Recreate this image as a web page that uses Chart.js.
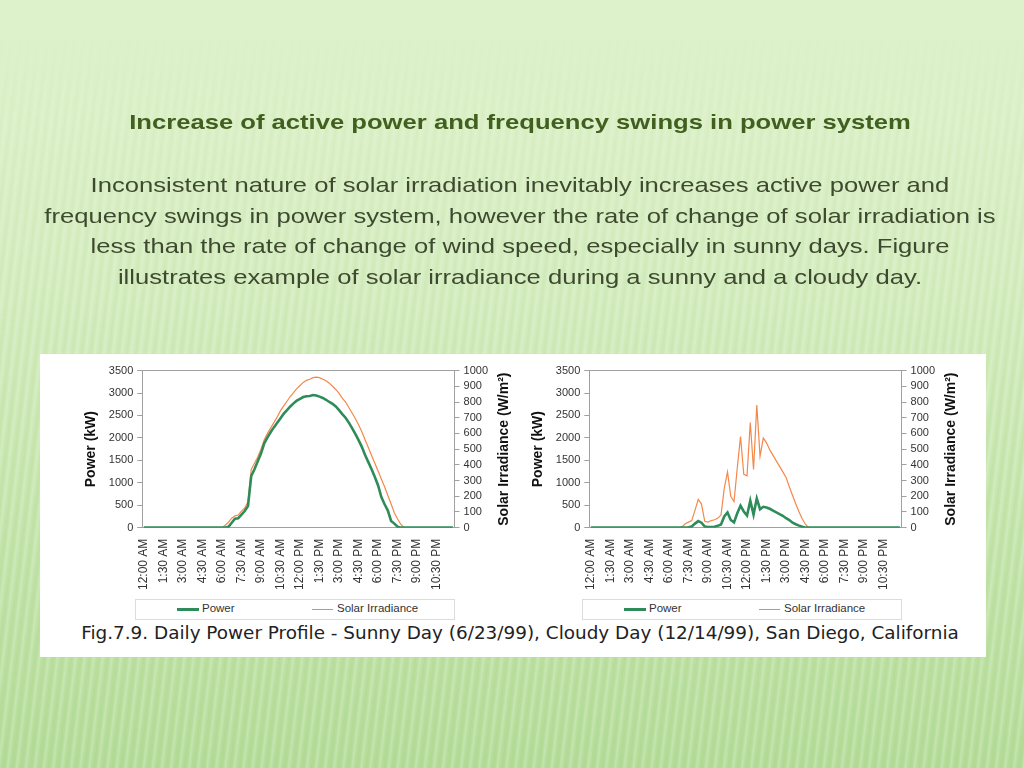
<!DOCTYPE html>
<html>
<head>
<meta charset="utf-8">
<script src="https://cdn.jsdelivr.net/npm/chart.js@4.4.1/dist/chart.umd.min.js"></script>
<style>
  html, body { margin: 0; padding: 0; }
  body {
    width: 1024px; height: 768px; overflow: hidden; position: relative;
    background: linear-gradient(to bottom, #ddf1cb 0px, #dbf0c7 120px, #d3ecbd 300px, #c4e5ab 520px, #b4dc98 768px);
    font-family: "Liberation Sans", Arial, sans-serif;
  }
  .stripes {
    position: absolute; left: 0; top: 0; width: 1024px; height: 768px;
    background: repeating-linear-gradient(97deg, rgba(255,255,255,0) 0px, rgba(255,255,255,0.22) 2px, rgba(255,255,255,0) 5px, rgba(120,170,90,0.06) 7px, rgba(255,255,255,0) 9px);
    -webkit-mask-image: linear-gradient(to bottom, transparent 30px, rgba(0,0,0,0.6) 120px, #000 400px);
  }
  .title, .para {
    position: absolute; left: 20px; width: 1000px; text-align: center;
    transform: scaleX(1.22); transform-origin: 500px 0;
  }
  .title { top: 110px; font-weight: bold; font-size: 21px; color: #41601f; }
  .para { top: 170px; font-size: 21px; line-height: 30.5px; color: #3d4a2f; }
  .panel {
    position: absolute; left: 40px; top: 354px; width: 946px; height: 303px; background: #fff;
  }
  .chartbox { position: absolute; top: 360px; width: 442px; height: 235px; }
  .legend {
    position: absolute; top: 599px; width: 318px; height: 19px;
    border: 1px solid #dcdcdc; font-size: 11.5px; color: #333;
  }
  .legend .sw { position: absolute; top: 9px; }
  .legend .tx { position: absolute; top: 2px; }
  .caption {
    position: absolute; left: 47px; width: 946px; top: 622px; text-align: center;
    font-family: "DejaVu Sans", Verdana, sans-serif; font-size: 18.4px; color: #222;
  }
</style>
</head>
<body>
<div class="stripes"></div>
<div class="title">Increase of active power and frequency swings in power system</div>
<div class="para">Inconsistent nature of solar irradiation inevitably increases active power and<br>frequency swings in power system, however the rate of change of solar irradiation is<br>less than the rate of change of wind speed, especially in sunny days. Figure<br>illustrates example of solar irradiance during a sunny and a cloudy day.</div>
<div class="panel"></div>
<div class="chartbox" style="left:76px"><canvas id="sunny"></canvas></div>
<div class="chartbox" style="left:523px"><canvas id="cloudy"></canvas></div>
<div class="legend" id="legSunny" style="left:135px"></div>
<div class="legend" id="legCloudy" style="left:582px"></div>
<div class="caption">Fig.7.9. Daily Power Profile - Sunny Day (6/23/99), Cloudy Day (12/14/99), San Diego, California</div>
<script>
// x tick labels shown every 1.5 h (data every 15 min)
const tickLabels = ['12:00 AM', '1:30 AM', '3:00 AM', '4:30 AM', '6:00 AM', '7:30 AM', '9:00 AM', '10:30 AM',
  '12:00 PM', '1:30 PM', '3:00 PM', '4:30 PM', '6:00 PM', '7:30 PM', '9:00 PM', '10:30 PM'];

// 15 minute categories over the day
const times = [];
for (let m = 0; m < 24 * 60; m += 15) {
  const h = Math.floor(m / 60), mm = m % 60;
  const h12 = h % 12 === 0 ? 12 : h % 12;
  times.push(h12 + ':' + String(mm).padStart(2, '0') + (h < 12 ? ' AM' : ' PM'));
}

// sunny day 6/23/99
const sunnyPower = [
  0, 0, 0, 0, 0, 0, 0, 0, 0, 0, 0, 0, 0, 0, 0, 0, 0, 0, 0, 0, 0, 0, 0, 0, 0, 0,
  20, 110, 200, 210, 290, 370, 480, 1150, 1300, 1480, 1650, 1880, 2010, 2130, 2240, 2340,
  2440, 2540, 2620, 2700, 2770, 2830, 2870, 2910, 2930, 2935, 2955, 2945, 2920, 2890,
  2850, 2800, 2760, 2700, 2620, 2530, 2450, 2340, 2220, 2090, 1950, 1800, 1620, 1460,
  1300, 1130, 940, 680, 520, 380, 150, 90, 20,
  0, 0, 0, 0, 0, 0, 0, 0, 0, 0, 0, 0, 0, 0, 0, 0, 0
];
const sunnyIrradiance = [
  0, 0, 0, 0, 0, 0, 0, 0, 0, 0, 0, 0, 0, 0, 0, 0, 0, 0, 0, 0, 0, 0, 0, 0, 0,
  15, 35, 60, 75, 80, 105, 125, 165, 370, 410, 450, 500, 560, 600, 635, 670, 705,
  745, 775, 805, 835, 860, 885, 905, 925, 938, 945, 955, 958, 955, 945, 935, 920,
  900, 880, 855, 825, 800, 765, 730, 695, 655, 610, 560, 510, 460, 410, 360, 310,
  260, 205, 150, 95, 55, 20,
  0, 0, 0, 0, 0, 0, 0, 0, 0, 0, 0, 0, 0, 0, 0, 0
];

// cloudy day 12/14/99
const cloudyPower = [
  0, 0, 0, 0, 0, 0, 0, 0, 0, 0, 0, 0, 0, 0, 0, 0, 0, 0, 0, 0, 0, 0, 0, 0, 0, 0, 0, 0, 0, 0,
  10, 25, 90, 145, 110, 25, 15, 15, 20, 40, 70, 250, 340, 170, 115, 320, 490, 360,
  270, 600, 290, 650, 410, 465, 450, 420, 380, 340, 300, 265, 210, 170, 110, 75, 45, 20,
  0, 0, 0, 0, 0, 0, 0, 0, 0, 0, 0, 0, 0, 0, 0, 0, 0, 0, 0, 0, 0, 0, 0, 0, 0, 0, 0, 0, 0, 0
];
const cloudyIrradiance = [
  0, 0, 0, 0, 0, 0, 0, 0, 0, 0, 0, 0, 0, 0, 0, 0, 0, 0, 0, 0, 0, 0, 0, 0, 0, 0, 0, 0,
  5, 25, 35, 45, 110, 180, 150, 40, 35, 45, 50, 60, 80, 250, 355, 200, 165, 380, 580,
  340, 330, 670, 370, 780, 455, 570, 540, 495, 460, 425, 390, 355, 320, 260, 205, 150,
  100, 55, 20,
  0, 0, 0, 0, 0, 0, 0, 0, 0, 0, 0, 0, 0, 0, 0, 0, 0, 0, 0, 0, 0, 0, 0, 0, 0, 0, 0, 0, 0
];

const GREEN = '#2f8c5a';
const ORANGE = '#f5874a';
const AXIS = '#a0a0a0';

// right axis title reads bottom-to-top like the left one
const rightTitle = {
  id: 'rightTitle',
  afterDraw(chart) {
    const area = chart.chartArea;
    const ctx = chart.ctx;
    ctx.save();
    ctx.translate(area.right + 50, (area.top + area.bottom) / 2);
    ctx.rotate(-Math.PI / 2);
    ctx.font = 'bold 14px "Liberation Sans", Arial';
    ctx.fillStyle = '#111';
    ctx.textAlign = 'center';
    ctx.textBaseline = 'middle';
    ctx.fillText('Solar Irradiance (W/m\u00b2)', 0, 0);
    ctx.restore();
  }
};

function makeChart(id, legendId, power, irradiance) {
  const tickFont = { family: '"Liberation Sans", Arial', size: 11 };
  const chart = new Chart(document.getElementById(id), {
    type: 'line',
    data: {
      labels: times,
      datasets: [{
        label: 'Power',
        data: power,
        borderColor: GREEN,
        backgroundColor: GREEN,
        borderWidth: 2.6,
        pointRadius: 0,
        yAxisID: 'y'
      }, {
        label: 'Solar Irradiance',
        data: irradiance,
        borderColor: ORANGE,
        backgroundColor: ORANGE,
        borderWidth: 1.2,
        pointRadius: 0,
        yAxisID: 'y1'
      }]
    },
    options: {
      responsive: true,
      maintainAspectRatio: false,
      animation: false,
      layout: { padding: { left: 5, right: 26, top: 4, bottom: 2 } },
      plugins: {
        legend: { display: false },
        tooltip: { enabled: false }
      },
      elements: { line: { tension: 0 } },
      scales: {
        x: {
          type: 'category',
          offset: true,
          grid: { display: false },
          border: { display: true, color: AXIS, width: 1 },
          ticks: {
            autoSkip: false,
            minRotation: 90,
            maxRotation: 90,
            padding: 3,
            color: '#333',
            font: { family: '"Liberation Sans", Arial', size: 12 },
            callback: function (value, index) {
              return index % 6 === 0 ? tickLabels[index / 6] : '';
            }
          }
        },
        y: {
          position: 'left',
          min: 0,
          max: 3500,
          ticks: {
            stepSize: 500, autoSkip: false, color: '#333', font: tickFont, padding: 4,
            callback: v => String(v)
          },
          grid: {
            drawOnChartArea: true,
            color: ctx => ctx.tick && ctx.tick.value === 3500 ? AXIS : 'rgba(0,0,0,0)',
            tickColor: AXIS,
            tickLength: 5
          },
          border: { display: true, color: AXIS },
          title: {
            display: true,
            text: 'Power (kW)',
            color: '#111',
            font: { family: '"Liberation Sans", Arial', size: 14, weight: 'bold' },
            padding: { top: 2, bottom: 5 }
          }
        },
        y1: {
          position: 'right',
          min: 0,
          max: 1000,
          ticks: {
            stepSize: 100, autoSkip: false, color: '#333', font: tickFont, padding: 4,
            callback: v => String(v)
          },
          grid: { drawOnChartArea: false, tickColor: AXIS, tickLength: 5 },
          border: { display: true, color: AXIS }
        }
      }
    },
    plugins: [rightTitle]
  });

  // legend box like the spreadsheet one
  const leg = document.getElementById(legendId);
  const pos = [[41, 22, 66], [176, 21, 201]];
  chart.data.datasets.forEach((ds, i) => {
    const sw = document.createElement('div');
    sw.className = 'sw';
    sw.style.left = pos[i][0] + 'px';
    sw.style.width = pos[i][1] + 'px';
    sw.style.height = (i === 0 ? 3 : 1) + 'px';
    sw.style.marginTop = (i === 0 ? -1 : 0) + 'px';
    sw.style.background = ds.borderColor;
    leg.appendChild(sw);
    const tx = document.createElement('div');
    tx.className = 'tx';
    tx.style.left = pos[i][2] + 'px';
    tx.textContent = ds.label;
    leg.appendChild(tx);
  });
  return chart;
}

makeChart('sunny', 'legSunny', sunnyPower, sunnyIrradiance);
makeChart('cloudy', 'legCloudy', cloudyPower, cloudyIrradiance);
</script>
</body>
</html>
